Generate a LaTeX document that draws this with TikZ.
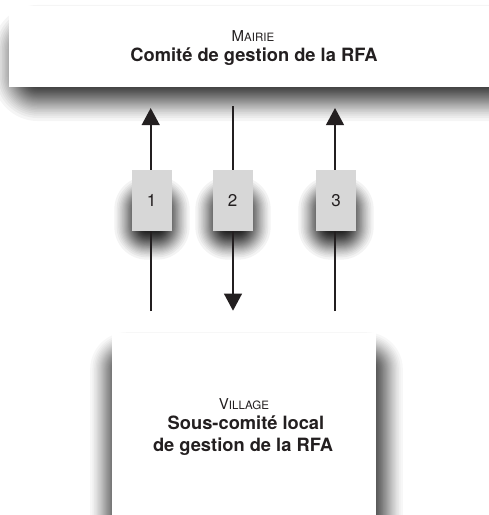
\documentclass[tikz,border=0pt]{standalone}
\usepackage{fontspec}
\setmainfont{TeX Gyre Heros}
\usetikzlibrary{arrows.meta}
\definecolor{ink}{HTML}{231F20}
\definecolor{numfill}{HTML}{D7D7D7}
% soft shadow: #1,#2 top-left; #3,#4 bottom-right; #5 blur radius; #6 max opacity
\newcommand\softshadow[6]{%
  \pgfmathsetmacro\aa{1-exp(ln(1-#6)/40)}%
  \foreach \k in {1,...,40}{%
    \pgfmathsetmacro\ss{min((1-(1-\aa)^\k)/#6,1)}%
    \pgfmathsetmacro\ff{0.5-sin(asin(1-2*\ss)/3)}%
    \pgfmathsetmacro\dd{#5-2*#5*\ff}%
    \pgfmathsetmacro\rr{max(#5+\dd,0.5)}%
    \fill[black,fill opacity=\aa,rounded corners=\rr pt] ({#1-\dd},{#2-\dd}) rectangle ({#3+\dd},{#4+\dd});
  }}
\tikzset{
  bigbox/.style={fill=white,draw=none,inner sep=0pt},
  numbox/.style={fill=numfill,draw=none,minimum width=40pt,minimum height=60.7pt,inner sep=0pt,
    text=ink,font=\fontsize{17}{17}\selectfont},
  arr/.style={draw=ink,line width=2pt,-{Triangle[width=17.7pt,length=17pt]}},
  title/.style={anchor=base,text=ink,inner sep=0pt,font=\bfseries\fontsize{18.3}{20}\selectfont},
  smallcap/.style={anchor=base,text=ink,inner sep=0pt}
}
\begin{document}
\begin{tikzpicture}[x=1pt,y=-1pt]
\useasboundingbox (0,0) rectangle (489,515);
\fill[white] (0,0) rectangle (489,515);
% shadows
\softshadow{12}{24}{520}{102}{26}{0.8}
\softshadow{106}{348}{387}{560}{21}{0.7}
\softshadow{128}{190}{176}{246}{19}{0.85}
\softshadow{209}{190}{257}{246}{19}{0.85}
\softshadow{312}{190}{360}{246}{19}{0.85}
% boxes
\node[bigbox,minimum width=486pt,minimum height=80.7pt] (mairie) at (252,46.35) {};
\node[bigbox,minimum width=264pt,minimum height=192pt] (village) at (244,428.7) {};
% texts
\node[smallcap] (m1) at (253,41) {\fontsize{15}{15}\selectfont M\fontsize{11.5}{11.5}\selectfont AIRIE};
\node[title] (m2) at (254,61) {Comité de gestion de la RFA};
\node[smallcap] (v1) at (244,409) {\fontsize{15}{15}\selectfont V\fontsize{11.5}{11.5}\selectfont ILLAGE};
\node[title] (v2) at (246,429) {Sous-comité local};
\node[title] (v3) at (243,451) {de gestion de la RFA};
% connectors
\coordinate (s1) at (150.7,311); \coordinate (e1) at (150.7,108);
\coordinate (s2) at (233,106);   \coordinate (e2) at (233,310.7);
\coordinate (s3) at (335,311);   \coordinate (e3) at (335,108);
\draw[arr] (s1) -- (e1);
\draw[arr] (s2) -- (e2);
\draw[arr] (s3) -- (e3);
% number boxes
\node[numbox] (n1) at (151.7,200.3) {1};
\node[numbox] (n2) at (232.7,200.3) {2};
\node[numbox] (n3) at (336,200.3) {3};
\end{tikzpicture}
\end{document}
